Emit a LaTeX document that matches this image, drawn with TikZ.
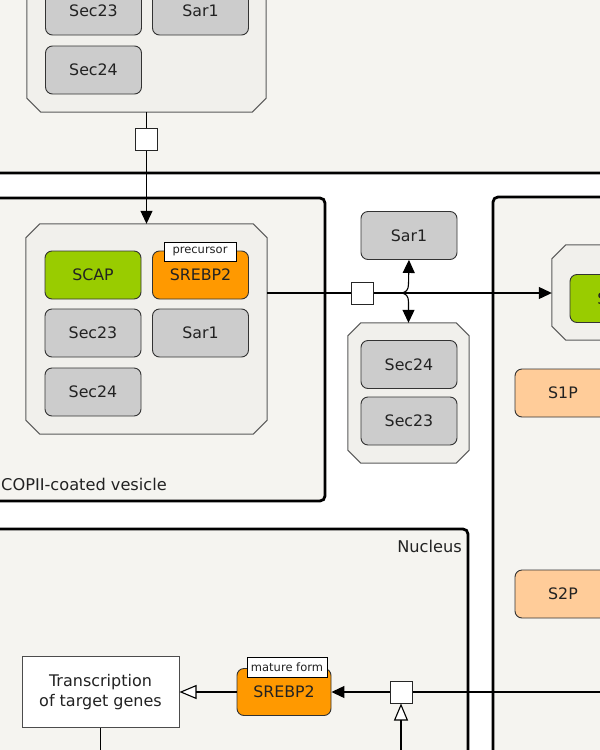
\documentclass[tikz,border=0pt]{standalone}
\usepackage{fontspec}
\setmainfont{DejaVu Sans}
\usetikzlibrary{arrows.meta}
\definecolor{beige}{HTML}{F5F4F0}
\definecolor{cplxfill}{HTML}{F1F0EC}
\definecolor{cplxborder}{HTML}{5A5A5A}
\definecolor{graybox}{HTML}{CCCCCC}
\definecolor{boxborder}{HTML}{333333}
\definecolor{scapgreen}{HTML}{99CC00}
\definecolor{srebporange}{HTML}{FF9900}
\definecolor{peach}{HTML}{FFCC99}
\definecolor{textc}{HTML}{222222}
\newcommand\cxoct[2]{%
  \draw[cplxdraw] ([xshift=#2]#1.north west) -- ([xshift=-#2]#1.north east)
    -- ([yshift=-#2]#1.north east) -- ([yshift=#2]#1.south east)
    -- ([xshift=-#2]#1.south east) -- ([xshift=#2]#1.south west)
    -- ([yshift=#2]#1.south west) -- ([yshift=-#2]#1.north west) -- cycle;}
\begin{document}
\begin{tikzpicture}[x=1pt,y=-1pt,
  compart/.style={draw=black, line width=2.8pt, fill=beige, rounded corners=5pt},
  cplx/.style={rectangle, draw=none, inner sep=0pt},
  cplxdraw/.style={draw=cplxborder, line width=1pt, fill=cplxfill},
  mol/.style={rectangle, rounded corners=7pt, draw=boxborder, line width=0.9pt,
    minimum width=96pt, minimum height=48pt, inner sep=0pt,
    font=\fontsize{15.8}{18}\selectfont, text=textc},
  grey/.style={mol, fill=graybox},
  statelbl/.style={rectangle, draw=black, fill=white, line width=0.8pt, inner sep=0pt,
    minimum height=19pt, font=\fontsize{11.5}{13}\selectfont, text=textc},
  port/.style={rectangle, draw=black!85, fill=white, minimum size=22pt, inner sep=0pt, line width=1pt},
  conn/.style={draw=black, line width=1.1pt},
  filledtip/.style={-{Triangle[length=13pt,width=12pt]}},
  opentip/.style={-{Triangle[length=17pt,width=14pt,fill=white]}},
  lbl/.style={font=\fontsize{16.2}{18}\selectfont, text=textc, inner sep=0pt}
]
\useasboundingbox (0,0) rectangle (600,750);
\clip (0,0) rectangle (600,750);
\fill[white] (0,0) rectangle (600,750);

% compartments
\draw[compart] (-20,-20) rectangle (620,173);
\draw[compart] (-20,198) rectangle (325,501);
\draw[compart] (493,197) rectangle (640,780);
\draw[compart] (-20,529) rectangle (468,780);

\node[lbl, anchor=base west] (vesLbl) at (1,490) {COPII-coated vesicle};
\node[lbl, anchor=base east] (nucLbl) at (462,552) {Nucleus};

% top complex (ER)
\node[cplx, minimum width=239pt, minimum height=210pt] (topCx) at (146.5,7) {};
\cxoct{topCx}{14pt}
\node[grey] (tSec23) at (93.5,11) {Sec23};
\node[grey] (tSar1) at (200.5,11) {Sar1};
\node[grey] (tSec24) at (93.5,70) {Sec24};

% vesicle complex
\node[cplx, minimum width=241pt, minimum height=210pt] (vCx) at (146.5,329) {};
\cxoct{vCx}{14pt}
\node[mol, fill=scapgreen] (vScap) at (93,275) {SCAP};
\node[mol, fill=srebporange] (vSrebp) at (200.5,275) {SREBP2};
\node[statelbl, minimum width=72pt] (prec) at (200,251.5) {precursor};
\node[grey] (vSec23) at (93,333) {Sec23};
\node[grey] (vSar1) at (200.5,333) {Sar1};
\node[grey] (vSec24) at (93,392) {Sec24};

% free Sar1 and Sec24/Sec23 complex
\node[grey] (fSar1) at (409,235.5) {Sar1};
\node[cplx, minimum width=121pt, minimum height=140pt] (fCx) at (408.5,393) {};
\cxoct{fCx}{13pt}
\node[grey] (fSec24) at (409,364.5) {Sec24};
\node[grey] (fSec23) at (409,421) {Sec23};

% right compartment contents
\node[cplx, minimum width=241pt, minimum height=95pt] (rCx) at (672.5,292.5) {};
\cxoct{rCx}{14pt}
\node[mol, fill=scapgreen] (rScap) at (618,298.5) {SCAP};
\node[mol, fill=peach] (s1p) at (563,393) {S1P};
\node[mol, fill=peach] (s2p) at (563,594) {S2P};

% nucleus contents
\node[rectangle, draw=black!70, fill=white, line width=1pt, minimum width=157pt, minimum height=71pt,
  align=center, font=\fontsize{16}{20}\selectfont, text=textc, inner sep=0pt] (trans) at (100.5,692)
  {Transcription\\of target genes};
\node[mol, fill=srebporange, minimum width=94pt, minimum height=47pt] (mSrebp) at (284,692) {SREBP2};
\node[statelbl, minimum width=80pt, minimum height=20pt] (mature) at (287,667) {mature form};

% process squares
\node[port] (sq1) at (146.5,139) {};
\node[port] (sq2) at (362.5,293) {};
\node[port] (sq3) at (401,692) {};

\coordinate (rin) at (620,692);
\coordinate (nbot) at (401,770);
\coordinate (tbot) at (100.5,770);
\coordinate (br) at (400,293);

% connectors
\draw[conn] (topCx.south) -- (sq1.north);
\draw[conn, filledtip] (sq1.south) -- (vCx.north);
\draw[conn] (vCx.east |- sq2.west) -- (sq2.west);
\draw[conn, filledtip] (sq2.east) -- (rCx.west |- sq2.east);
\draw[conn, filledtip] (br) .. controls (406,293) and (408.5,290) .. (408.5,284) -- (fSar1.south);
\draw[conn, filledtip] (br) .. controls (406,293) and (408.5,296) .. (408.5,302) -- (fCx.north);

\draw[conn] (rin) -- (sq3.east);
\draw[conn, filledtip] (sq3.west) -- (mSrebp.east);
\draw[conn, opentip] (nbot) -- (sq3.south);
\draw[conn, opentip] (mSrebp.west) -- (trans.east);
\draw[conn] (trans.south) -- (tbot);
\end{tikzpicture}
\end{document}
